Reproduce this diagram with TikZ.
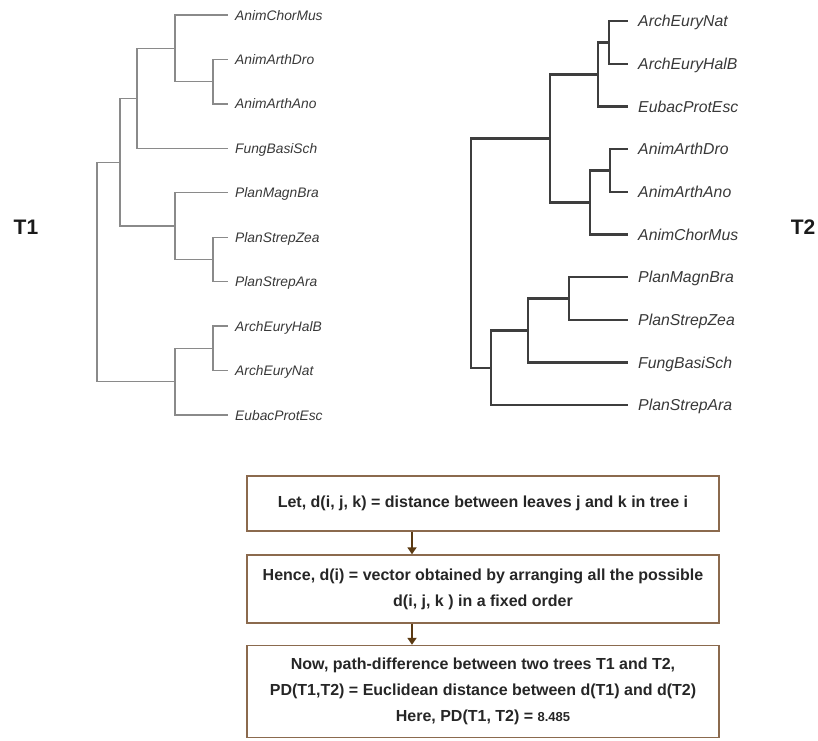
\documentclass[tikz,border=0pt]{standalone}
\usepackage{fontspec}
\setmainfont{Liberation Sans}
\usetikzlibrary{arrows.meta}
\definecolor{treeA}{HTML}{8A8A8A}
\definecolor{treeB}{HTML}{3E3E3E}
\definecolor{leafc}{HTML}{383838}
\definecolor{labc}{HTML}{1A1A1A}
\definecolor{boxc}{HTML}{8B6A4E}
\definecolor{arrc}{HTML}{5B3A12}
\definecolor{boxtxt}{HTML}{262626}
\begin{document}
\begin{tikzpicture}[x=1pt,y=-1pt,
  t1edge/.style={draw=treeA, line width=1.3pt},
  t2edge/.style={draw=treeB, line width=2.4pt},
  leafA/.style={anchor=base west, inner sep=0pt, text=leafc, font=\fontsize{13.8}{16}\selectfont\itshape},
  leafB/.style={anchor=base west, inner sep=0pt, text=leafc, font=\fontsize{15.8}{18}\selectfont\itshape},
  treelabel/.style={inner sep=0pt, text=labc, font=\fontsize{21}{25}\selectfont\bfseries},
  flowbox/.style={draw=boxc, line width=1.4pt, minimum width=472pt, inner sep=0pt, align=center, text=boxtxt, font=\fontsize{16}{26}\selectfont\bfseries},
  flow/.style={draw=arrc, line width=2pt, -{Triangle[width=9pt,length=7pt]}}
]
\useasboundingbox (0,0) rectangle (818,740);

% ---------------- Tree T1 ----------------
\coordinate (a1) at (97,272);
\coordinate (a2) at (120,162.2);
\coordinate (a3) at (137,98.3);
\coordinate (a4) at (175,48.4);
\coordinate (a5) at (213,81.7);
\coordinate (a6) at (175,226.1);
\coordinate (a7) at (213,259.4);
\coordinate (a8) at (175,381.7);
\coordinate (a9) at (213,348.3);

\coordinate (l1) at (228,15);
\coordinate (l2) at (228,59.4);
\coordinate (l3) at (228,103.9);
\coordinate (l4) at (228,148.3);
\coordinate (l5) at (228,192.8);
\coordinate (l6) at (228,237.2);
\coordinate (l7) at (228,281.7);
\coordinate (l8) at (228,326.1);
\coordinate (l9) at (228,370.6);
\coordinate (l10) at (228,415);

\node[leafA] (t1n1) at (235,20) {AnimChorMus};
\node[leafA] (t1n2) at (235,64.4) {AnimArthDro};
\node[leafA] (t1n3) at (235,108.9) {AnimArthAno};
\node[leafA] (t1n4) at (235,153.3) {FungBasiSch};
\node[leafA] (t1n5) at (235,197.8) {PlanMagnBra};
\node[leafA] (t1n6) at (235,242.2) {PlanStrepZea};
\node[leafA] (t1n7) at (235,286.7) {PlanStrepAra};
\node[leafA] (t1n8) at (235,331.1) {ArchEuryHalB};
\node[leafA] (t1n9) at (235,375.6) {ArchEuryNat};
\node[leafA] (t1n10) at (235,420) {EubacProtEsc};

\draw[t1edge] (a1) |- (a2);
\draw[t1edge] (a1) |- (a8);
\draw[t1edge] (a2) |- (a3);
\draw[t1edge] (a2) |- (a6);
\draw[t1edge] (a3) |- (a4);
\draw[t1edge] (a3) |- (l4);
\draw[t1edge] (a4) |- (l1);
\draw[t1edge] (a4) |- (a5);
\draw[t1edge] (a5) |- (l2);
\draw[t1edge] (a5) |- (l3);
\draw[t1edge] (a6) |- (l5);
\draw[t1edge] (a6) |- (a7);
\draw[t1edge] (a7) |- (l6);
\draw[t1edge] (a7) |- (l7);
\draw[t1edge] (a8) |- (a9);
\draw[t1edge] (a8) |- (l10);
\draw[t1edge] (a9) |- (l8);
\draw[t1edge] (a9) |- (l9);

\node[treelabel] (T1) at (26,227) {T1};

% ---------------- Tree T2 ----------------
\coordinate (b1) at (471,253);
\coordinate (b2) at (550,138.3);
\coordinate (b3) at (598,74.3);
\coordinate (b4) at (609,42.3);
\coordinate (b5) at (590,202.3);
\coordinate (b6) at (610,170.3);
\coordinate (b7) at (491,367.7);
\coordinate (b8) at (528,330.3);
\coordinate (b9) at (569,298.3);

\coordinate (m1) at (628,21);
\coordinate (m2) at (628,63.7);
\coordinate (m3) at (628,106.3);
\coordinate (m4) at (628,149);
\coordinate (m5) at (628,191.7);
\coordinate (m6) at (628,234.3);
\coordinate (m7) at (628,277);
\coordinate (m8) at (628,319.7);
\coordinate (m9) at (628,362.3);
\coordinate (m10) at (628,405);

\node[leafB] (t2n1) at (638,26.7) {ArchEuryNat};
\node[leafB] (t2n2) at (638,69.4) {ArchEuryHalB};
\node[leafB] (t2n3) at (638,112) {EubacProtEsc};
\node[leafB] (t2n4) at (638,154.7) {AnimArthDro};
\node[leafB] (t2n5) at (638,197.4) {AnimArthAno};
\node[leafB] (t2n6) at (638,240) {AnimChorMus};
\node[leafB] (t2n7) at (638,282.7) {PlanMagnBra};
\node[leafB] (t2n8) at (638,325.4) {PlanStrepZea};
\node[leafB] (t2n9) at (638,368) {FungBasiSch};
\node[leafB] (t2n10) at (638,410.7) {PlanStrepAra};

\draw[t2edge] (b1) |- (b2);
\draw[t2edge] (b1) |- (b7);
\draw[t2edge] (b2) |- (b3);
\draw[t2edge] (b2) |- (b5);
\draw[t2edge] (b3) |- (b4);
\draw[t2edge] (b3) |- (m3);
\draw[t2edge] (b4) |- (m1);
\draw[t2edge] (b4) |- (m2);
\draw[t2edge] (b5) |- (b6);
\draw[t2edge] (b5) |- (m6);
\draw[t2edge] (b6) |- (m4);
\draw[t2edge] (b6) |- (m5);
\draw[t2edge] (b7) |- (b8);
\draw[t2edge] (b7) |- (m10);
\draw[t2edge] (b8) |- (b9);
\draw[t2edge] (b8) |- (m9);
\draw[t2edge] (b9) |- (m7);
\draw[t2edge] (b9) |- (m8);

\node[treelabel] (T2) at (803,227) {T2};

% ---------------- Flow boxes ----------------
\node[flowbox, minimum height=55pt] (box1) at (483,503.5)
  {Let, d(i, j, k) = distance between leaves j and k in tree i};
\node[flowbox, minimum height=68pt] (box2) at (483,589)
  {Hence, d(i) = vector obtained by arranging all the possible\\ d(i, j, k ) in a fixed order};
\node[flowbox, minimum height=92pt] (box3) at (483,691.5)
  {Now, path-difference between two trees T1 and T2,\\ PD(T1,T2) = Euclidean distance between d(T1) and d(T2)\\ Here, PD(T1, T2) = {\fontsize{13}{26}\selectfont 8.485}};

\coordinate (ax) at (412,0);
\draw[flow] (box1.south -| ax) -- (box2.north -| ax);
\draw[flow] (box2.south -| ax) -- (box3.north -| ax);
\end{tikzpicture}
\end{document}
